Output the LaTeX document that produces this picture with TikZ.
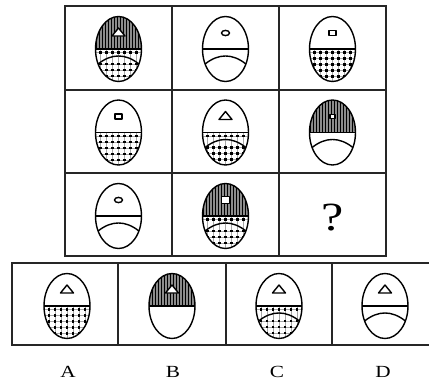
\documentclass[tikz,border=0pt]{standalone}
\usepackage{fontspec}
\setmainfont{Liberation Serif}
\tikzset{
  gridln/.style={line width=2pt,draw=black!85},
  eggln/.style={line width=1.4pt,draw=black},
  markln/.style={line width=1.4pt,draw=black,fill=white,line join=round},
  hatchbg/.style={fill=black!45},
  hatchln/.style={line width=0.9pt,draw=black},
  dotfill/.style={fill=black},
  dotgrid/.style={line width=0.4pt,draw=black!35},
  optlabel/.style={font=\fontsize{17}{17}\selectfont,xscale=1.25,inner sep=0pt},
}
% #1 centre, #2 hatched top, #3 dotted bottom, #4 arc, #5 mark
\newcommand\eggat[5]{%
\begin{scope}[shift={#1},yscale=-1]
 \ifnum#2=1
  \begin{scope}
   \clip (-23,0) arc[start angle=180,end angle=0,x radius=23,y radius=32.5] -- cycle;
   \fill[hatchbg] (-24,0) rectangle (24,33);
   \foreach \xx in {-22.5,-19.5,...,23} \draw[hatchln] (\xx,0) -- (\xx,33);
  \end{scope}
 \fi
 \ifnum#3=1
  \begin{scope}
   \clip (-23,0) arc[start angle=180,end angle=360,x radius=23,y radius=32.5] -- cycle;
   \ifnum#4=1 \def\rowsy{-3.4,-15,-21,-27}\else\def\rowsy{-3.4,-9.4,-15.4,-21.4,-27.4}\fi
   \foreach \xx in {-18,-12,...,19} \draw[dotgrid] (\xx,0) -- (\xx,-33);
   \foreach \yy in \rowsy {\draw[dotgrid] (-24,\yy) -- (24,\yy);
     \foreach \xx in {-18,-12,...,19} \fill[dotfill] (\xx-1.3,\yy-1.1) rectangle (\xx+1.3,\yy+1.1);}
  \end{scope}
 \fi
 \draw[eggln] (0,0) ellipse[x radius=23,y radius=32.5];
 \draw[eggln] (-23,0) -- (23,0);
 \ifnum#4=1 \draw[eggln,fill=none] (-20.4,-15) .. controls (-7,-4.3) and (7,-4.3) .. (20.4,-15);\fi
 #5
\end{scope}}
\newcommand\mkcirc{\draw[markln] (0,16) ellipse[x radius=4,y radius=2.6];}
\newcommand\mksq[2]{\draw[markln] (-#1/2,16-#2/2) rectangle (#1/2,16+#2/2);}
\newcommand\mktri{\draw[markln] (-6.5,13) -- (6.5,13) -- (0,21) -- cycle;}
\begin{document}
\begin{tikzpicture}[x=1pt,y=-1pt]
\useasboundingbox[fill=white] (0,0) rectangle (429,383);
% grid
\draw[gridln] (65,6) rectangle (386,256);
\draw[gridln] (172,6) -- (172,256) (279,6) -- (279,256);
\draw[gridln] (65,89.5) -- (386,89.5) (65,173) -- (386,173);
% row 1
\eggat{(118.5,49)}{1}{1}{1}{\mktri}
\eggat{(225.5,49)}{0}{0}{1}{\mkcirc}
\eggat{(332.5,49)}{0}{1}{0}{\mksq{7}{5}}
% row 2
\eggat{(118.5,132.5)}{0}{1}{0}{\mksq{7}{5}}
\eggat{(225.5,132.5)}{0}{1}{1}{\mktri}
\eggat{(332.5,132.5)}{1}{0}{1}{\mksq{5}{4}}
% row 3
\eggat{(118.5,216)}{0}{0}{1}{\mkcirc}
\eggat{(225.5,216)}{1}{1}{1}{\mksq{8}{6.5}}
\node[font=\fontsize{40}{40}\selectfont,xscale=1.25,inner sep=0pt] (q) at (333,218) {?};
% options
\draw[gridln] (12,263) rectangle (440,345);
\draw[gridln] (118,263) -- (118,345) (226,263) -- (226,345) (332,263) -- (332,345);
\eggat{(67,306)}{0}{1}{0}{\mktri}
\eggat{(172,306)}{1}{0}{0}{\mktri}
\eggat{(279,306)}{0}{1}{1}{\mktri}
\eggat{(385,306)}{0}{0}{1}{\mktri}
\node[optlabel] (la) at (68,372) {A};
\node[optlabel] (lb) at (173,372) {B};
\node[optlabel] (lc) at (277,372) {C};
\node[optlabel] (ld) at (383,372) {D};
\end{tikzpicture}
\end{document}
